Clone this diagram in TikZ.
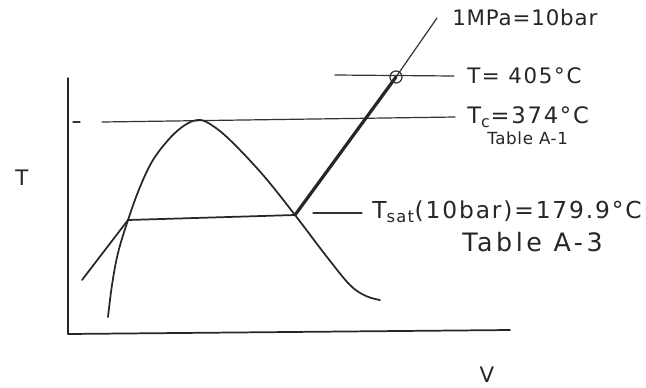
\documentclass[tikz,border=0pt]{standalone}
\usepackage{fontspec}
\setmainfont{DejaVu Sans}
\newfontfamily\hand[LetterSpace=4]{DejaVu Sans}
\newfontfamily\handwide[LetterSpace=8]{DejaVu Sans}
\newfontfamily\handwider[LetterSpace=14]{DejaVu Sans}
\begin{document}
\begin{tikzpicture}[x=0.75pt,y=-0.75pt,
  pen/.style={line width=1.3pt,line cap=round,line join=round,color=black!85},
  thin pen/.style={line width=0.9pt,line cap=round,color=black!80},
  heavy pen/.style={line width=2.4pt,line cap=round,color=black!85},
  lbl/.style={font=\hand\fontsize{16}{18}\selectfont,anchor=west,inner sep=0pt,text=black!85},
  wide lbl/.style={font=\handwide\fontsize{16}{18}\selectfont,anchor=west,inner sep=0pt,text=black!85},
  small lbl/.style={font=\hand\fontsize{12.5}{14}\selectfont,anchor=west,inner sep=0pt,text=black!85}]
\useasboundingbox (0,0) rectangle (646,387);
% axes
\coordinate (ytop) at (68,78);
\coordinate (origin) at (68,334);
\coordinate (xend) at (510,330);
\draw[pen] (ytop) -- (origin) -- (xend);
\node[lbl,anchor=center] (Tax) at (22,178) {T};
\node[lbl,anchor=center] (Vax) at (487,375) {V};
% key points
\coordinate (peak) at (198,120);
\coordinate (fL) at (128,220);
\coordinate (gR) at (295,215);
\coordinate (state) at (396,77);
\coordinate (ptop) at (437,18);
\coordinate (liqend) at (82,280);
% Tc dashed line
\coordinate (tcdash1) at (73,122);
\coordinate (tcdash2) at (80,122);
\coordinate (tcA) at (102,122);
\coordinate (tcB) at (455,117);
\draw[thin pen] (tcdash1) -- (tcdash2);
\draw[thin pen] (tcA) -- (tcB);
% dome
\draw[pen] plot[smooth,tension=0.6] coordinates {(108,317) (112,285) (118,253) (128,220) (140,187) (153,160) (170,138) (185,125) (198,120) (210,124) (230,140) (263,175) (295,215) (327,257) (350,285) (366,296) (380,300)};
% isobar
\draw[pen] (liqend) -- (fL);
\draw[pen] (fL) -- (gR);
\draw[heavy pen] (gR) -- (state);
\draw[thin pen] (state) -- (ptop);
\draw[thin pen] (state) circle (6);
% T=405 line
\coordinate (t4A) at (335,75);
\coordinate (t4B) at (454,76);
\draw[thin pen] (t4A) -- (t4B);
% Tsat line
\coordinate (tsA) at (313,213);
\coordinate (tsB) at (362,213);
\draw[thin pen] (tsA) -- (tsB);
% labels
\node[lbl] (pl) at (452,18) {1MPa=10bar};
\node[wide lbl] (t405) at (467,76) {T= 405°C};
\node[wide lbl,font=\handwide\fontsize{17}{19}\selectfont] (tc) at (467,117) {T\textsubscript{c}=374°C};
\node[small lbl] (ta1) at (487,138) {Table A-1};
\node[wide lbl,font=\handwide\fontsize{17.5}{19}\selectfont] (tsat) at (372,212) {T\textsubscript{sat}(10bar)=179.9°C};
\node[lbl,font=\handwider\fontsize{19}{21}\selectfont] (ta3) at (462,242) {Table A-3};
\end{tikzpicture}
\end{document}
